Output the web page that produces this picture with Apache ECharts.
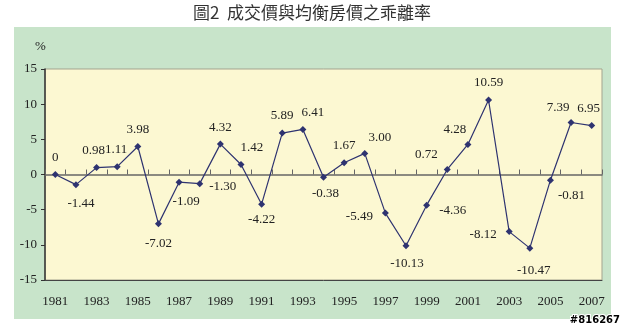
<!DOCTYPE html>
<html><head><meta charset="utf-8">
<script src="https://cdn.jsdelivr.net/npm/echarts@6/dist/echarts.min.js"></script>
<style>html,body{margin:0;padding:0;background:#fff}#c{width:624px;height:327px}</style>
</head><body><div id="c"></div>
<script>
const years = ['1981','1982','1983','1984','1985','1986','1987','1988','1989','1990','1991','1992','1993','1994','1995','1996','1997','1998','1999','2000','2001','2002','2003','2004','2005','2006','2007'];
const deviation = [0,-1.44,0.98,1.11,3.98,-7.02,-1.09,-1.30,4.32,1.42,-4.22,5.89,6.41,-0.38,1.67,3.00,-5.49,-10.13,-4.36,0.72,4.28,10.59,-8.12,-10.47,-0.81,7.39,6.95];
const labelTexts = ['0','-1.44','0.98','1.11','3.98','-7.02','-1.09','-1.30','4.32','1.42','-4.22','5.89','6.41','-0.38','1.67','3.00','-5.49','-10.13','-4.36','0.72','4.28','10.59','-8.12','-10.47','-0.81','7.39','6.95'];
const yTicks = [-15,-10,-5,0,5,10,15];
const titleText = '圖2  成交價與均衡房價之乖離率';
const unitText = '%';

// label placement (styling): [position, dx, dy]
const labelPlace = [
 ['top',0,-2],['bottom',5,4],['top',-3,-2],['top',-1,-2],['top',0,-2],['bottom',0,5],['bottom',7,4],['right',1,3],
 ['top',0,-2],['top',11,-2],['bottom',0,0],['top',0,-2],['top',10,-2],['bottom',2,1],['top',0,-2],['top',15,-1],
 ['left',-4,3],['bottom',1,3],['right',4,5],['top',-21,0],['top',-13,0],['top',0,-2],['left',-4,3],['bottom',4,7],
 ['bottom',21,0],['top',-13,0],['top',-3,-2]
];

const serif = '"Liberation Serif","Times New Roman","DejaVu Serif",serif';
const chart = echarts.init(document.getElementById('c'), null, {renderer:'canvas'});
const data = deviation.map((v,i)=>({
  value:v,
  label:{show:true, position:labelPlace[i][0], offset:[labelPlace[i][1],labelPlace[i][2]], formatter:labelTexts[i]}
}));
chart.setOption({
  animation:false,
  graphic:[
    {type:'rect', z:-10, shape:{x:14,y:27,width:597,height:292}, style:{fill:'#c8e4ca'}},
    {type:'text', left:'center', top:4, style:{text:titleText, font:'17px "Noto Sans CJK TC"', fill:'#333'}},
    {type:'text', left:35, top:40, style:{text:unitText, font:'13px '+serif, fill:'#222'}},
    {type:'text', right:3, top:314, style:{text:'#816267', font:'bold 10px "DejaVu Sans"', fill:'#000', stroke:'#fff', lineWidth:2}}
  ],
  grid:{left:45, right:22, top:69, bottom:47, show:true, backgroundColor:'#fcf8d2', borderColor:'#a3a38f', borderWidth:1},
  xAxis:[
    {type:'category', data:years, position:'bottom', boundaryGap:true,
     axisLine:{show:true, onZero:false, lineStyle:{color:'#444', width:1}},
     axisTick:{show:false},
     axisLabel:{interval:1, margin:15, color:'#222', fontFamily:serif, fontSize:13},
     splitLine:{show:false}},
    {type:'category', data:years, position:'bottom', boundaryGap:true,
     axisLine:{show:true, onZero:true, lineStyle:{color:'#666', width:1.5}},
     axisTick:{show:true, inside:true, length:5, interval:0, lineStyle:{color:'#666'}},
     axisLabel:{show:false}, splitLine:{show:false}}
  ],
  yAxis:{type:'value', min:yTicks[0], max:yTicks[yTicks.length-1], interval:5,
     axisLine:{show:true, lineStyle:{color:'#333', width:1.5}},
     axisTick:{show:true, length:4, lineStyle:{color:'#333'}},
     axisLabel:{color:'#222', fontFamily:serif, fontSize:13, margin:8},
     splitLine:{show:false}},
  series:[{
    type:'line', xAxisIndex:0, data:data,
    symbol:'diamond', symbolSize:7,
    lineStyle:{color:'#2e3370', width:1.2},
    itemStyle:{color:'#2e3370'},
    label:{color:'#222', fontFamily:serif, fontSize:13, distance:5}
  }]
});
</script></body></html>
